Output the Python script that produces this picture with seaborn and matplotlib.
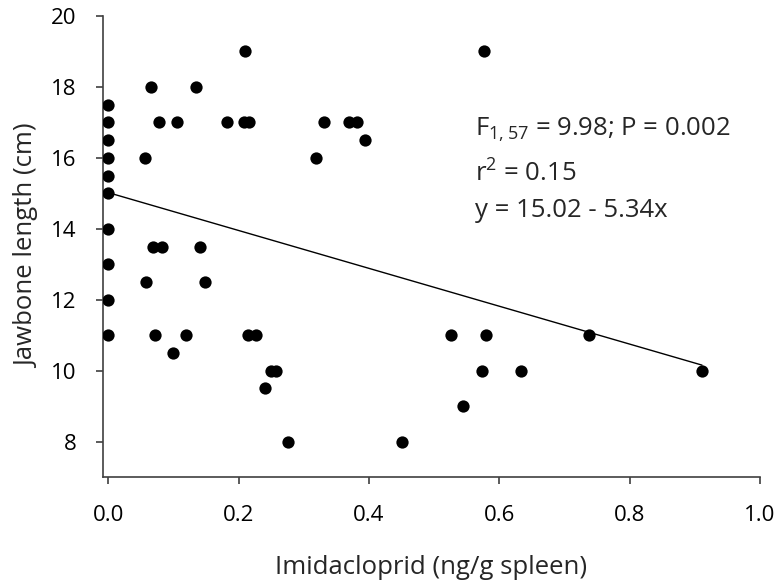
import numpy as np
import pandas as pd
import seaborn as sns
import matplotlib.pyplot as plt

# imidacloprid in spleen (ng/g) and jawbone length (cm)
imidacloprid = [0, 0, 0, 0, 0, 0, 0, 0, 0, 0,
                0.210, 0.065, 0.134, 0.078, 0.106, 0.182, 0.209, 0.216,
                0.331, 0.369, 0.382, 0.394, 0.057, 0.318, 0.068, 0.082,
                0.141, 0.058, 0.149, 0.072, 0.119, 0.215, 0.226, 0.099,
                0.249, 0.258, 0.240, 0.276, 0.451, 0.577, 0.526, 0.579,
                0.738, 0.574, 0.634, 0.911, 0.545]
jawbone = [17.5, 17, 16.5, 16, 15.5, 15, 14, 13, 12, 11,
           19, 18, 18, 17, 17, 17, 17, 17,
           17, 17, 17, 16.5, 16, 16, 13.5, 13.5,
           13.5, 12.5, 12.5, 11, 11, 11, 11, 10.5,
           10, 10, 9.5, 8, 8, 19, 11, 11,
           11, 10, 10, 10, 9]

intercept = 15.02
slope = -5.34
stats_lines = ["F$_{1, 57}$ = 9.98; P = 0.002",
               "r$^{2}$ = 0.15",
               "y = 15.02 - 5.34x"]

df = pd.DataFrame({"x": imidacloprid, "y": jawbone})
fit_x = np.array([df["x"].min(), df["x"].max()])
fit = pd.DataFrame({"x": fit_x, "y": intercept + slope * fit_x})

sns.set_style("ticks")
plt.rcParams["font.family"] = ["Open Sans", "DejaVu Sans"]
plt.rcParams["mathtext.default"] = "regular"

fig = plt.figure(figsize=(7.82, 5.85), dpi=100)
ax = fig.add_axes([0.1313, 0.1846, 0.8406, 0.788])

sns.scatterplot(data=df, x="x", y="y", ax=ax, color="black", s=78,
                edgecolor="black", linewidth=0, zorder=3)
sns.lineplot(data=fit, x="x", y="y", ax=ax, color="black", linewidth=1.0)

ax.set_xlim(-0.0086, 1.0)
ax.set_ylim(7, 20)
ax.set_xticks(np.arange(0, 1.01, 0.2))
ax.set_xticklabels([f"{v:.1f}" for v in np.arange(0, 1.01, 0.2)])
ax.set_yticks(range(8, 21, 2))

for side in ["top", "right"]:
    ax.spines[side].set_visible(False)
for side in ["left", "bottom"]:
    ax.spines[side].set_color("#404040")
    ax.spines[side].set_linewidth(1.2)

ax.tick_params(axis="both", direction="out", length=5, width=1.2,
               color="#404040", labelsize=16, labelcolor="black")
ax.tick_params(axis="y", pad=14)
ax.tick_params(axis="x", pad=15)

ax.set_xlabel("Imidacloprid (ng/g spleen)", fontsize=18.5, labelpad=21)
ax.set_ylabel("Jawbone length (cm)", fontsize=18.5, labelpad=8)

for txt, yv in zip(stats_lines, [16.62, 15.32, 14.34]):
    ax.text(0.563, yv, txt, fontsize=18.5, ha="left", va="baseline")

fig.savefig("out.png", dpi=100)
